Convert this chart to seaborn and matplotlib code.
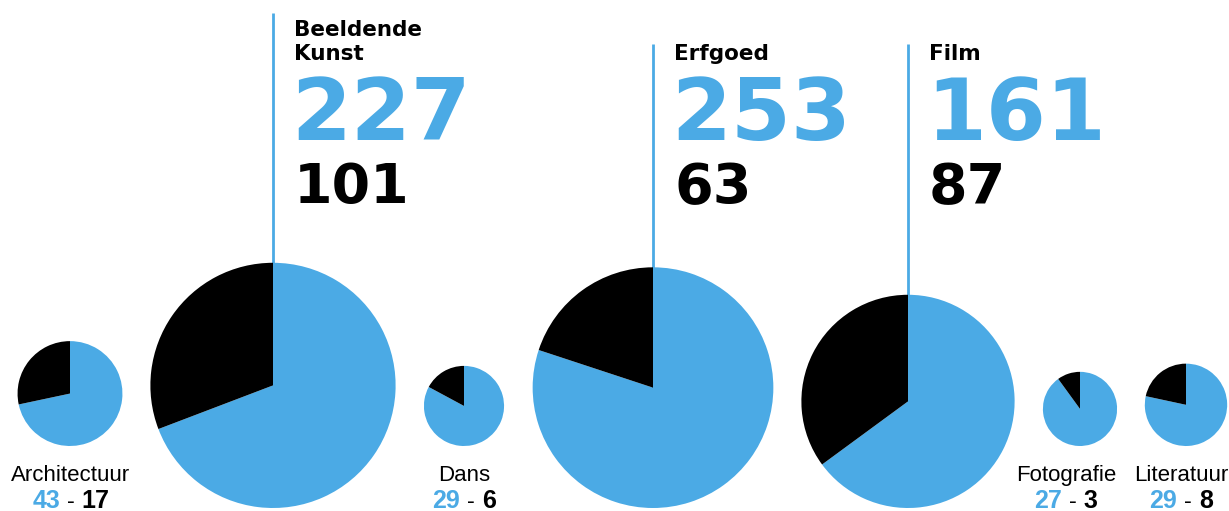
import numpy as np
import matplotlib
matplotlib.use("Agg")
import matplotlib.pyplot as plt
import seaborn as sns

# ---- data ----
categories = ["Architectuur", "Beeldende Kunst", "Dans", "Erfgoed", "Film", "Fotografie", "Literatuur"]
blue_values = [43, 227, 29, 253, 161, 27, 29]
black_values = [17, 101, 6, 63, 87, 3, 8]
featured = [False, True, False, True, True, False, False]

# ---- layout / style ----
x_centers = [70, 273, 464, 653, 908, 1080, 1186]
label_x = [71, 273, 464, 653, 908, 1066, 1181]
BLUE = "#4BAAE5"
BLACK = "#000000"
W, H = 1229, 511
R_SCALE = 6.77          # radius (px) per sqrt(total)
BOTTOM_BIG = 508
BOTTOM_SMALL = 446

sns.set_theme(style="white")
plt.rcParams["font.family"] = ["Liberation Sans", "DejaVu Sans"]

fig = plt.figure(figsize=(W / 100, H / 100), dpi=100)
ax = fig.add_axes([0, 0, 1, 1])
ax.set_xlim(0, W)
ax.set_ylim(0, H)


def Y(py):
    return H - py


renderer = fig.canvas.get_renderer()

for cat, b, k, feat, xc, lx in zip(categories, blue_values, black_values, featured,
                                   x_centers, label_x):
    total = b + k
    r = R_SCALE * np.sqrt(total)
    bottom = BOTTOM_BIG if feat else BOTTOM_SMALL
    cy = bottom - r
    ax.pie([b, k], colors=[BLUE, BLACK], startangle=90, counterclock=False,
           center=(xc, Y(cy)), radius=r, frame=True,
           wedgeprops=dict(linewidth=0, zorder=3))
    if feat:
        name = cat.replace(" ", "\n")
        n_lines = name.count("\n") + 1
        top = 44 - (n_lines - 1) * 31
        ax.plot([xc, xc], [Y(top), Y(cy)], color=BLUE, lw=2, zorder=1,
                solid_capstyle="butt")
        tx = xc + 21
        ax.text(tx, Y(60), name, ha="left", va="baseline", fontsize=15.5,
                fontweight="bold", family="DejaVu Sans", color=BLACK,
                linespacing=1.25)
        ax.text(tx - 3, Y(140), str(b), ha="left", va="baseline", fontsize=62,
                fontweight="bold", family="DejaVu Sans", color=BLUE)
        ax.text(tx, Y(203), str(k), ha="left", va="baseline", fontsize=40,
                fontweight="bold", family="DejaVu Sans", color=BLACK)
    else:
        ax.text(lx, Y(481), cat, ha="center", va="baseline", fontsize=16,
                color=BLACK)
        parts = [
            ax.text(0, Y(508), str(b), ha="left", va="baseline", fontsize=18,
                    fontweight="bold", color=BLUE),
            ax.text(0, Y(508), "-", ha="left", va="baseline", fontsize=17,
                    color=BLACK),
            ax.text(0, Y(508), str(k), ha="left", va="baseline", fontsize=18,
                    fontweight="bold", color=BLACK),
        ]
        gap = 7
        widths = [p.get_window_extent(renderer).width for p in parts]
        total_w = sum(widths) + gap * (len(parts) - 1)
        x0 = lx - total_w / 2
        for p, w in zip(parts, widths):
            p.set_x(x0)
            x0 += w + gap

ax.set_xlim(0, W)
ax.set_ylim(0, H)
ax.set_aspect("auto")
ax.axis("off")

fig.savefig("out.png", dpi=100, facecolor="white")
